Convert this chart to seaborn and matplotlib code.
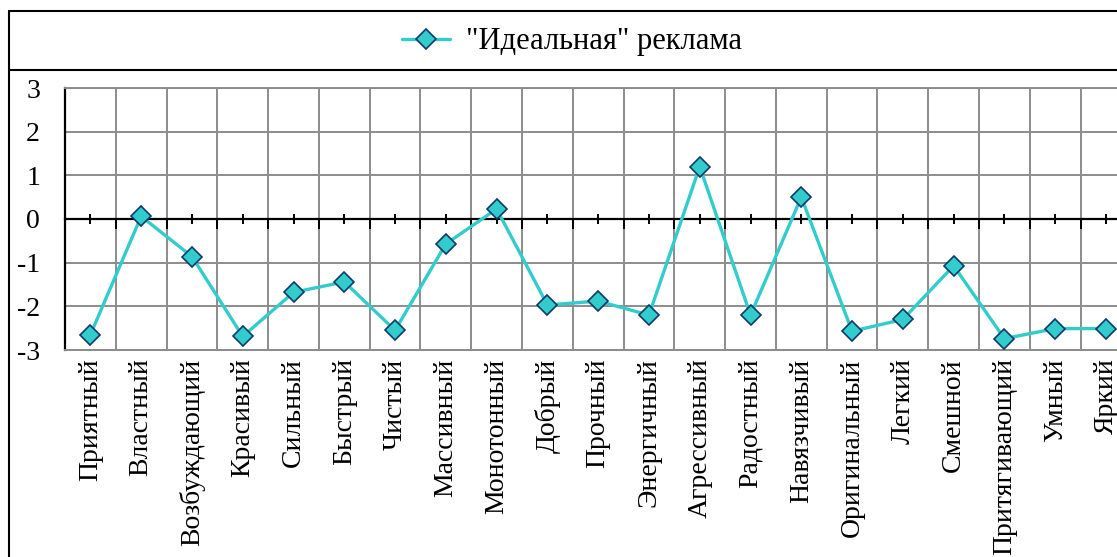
import numpy as np
import pandas as pd
import matplotlib
matplotlib.use("Agg")
import matplotlib.pyplot as plt
from matplotlib.lines import Line2D
from matplotlib import font_manager
import seaborn as sns

categories = ["Приятный", "Властный", "Возбуждающий", "Красивый", "Сильный",
              "Быстрый", "Чистый", "Массивный", "Монотонный", "Добрый",
              "Прочный", "Энергичный", "Агрессивный", "Радостный", "Навязчивый",
              "Оригинальный", "Легкий", "Смешной", "Притягивающий", "Умный", "Яркий"]
values = [-2.65, 0.06, -0.86, -2.69, -1.68, -1.44, -2.55, -0.57, 0.23, -1.97,
          -1.88, -2.20, 1.20, -2.20, 0.50, -2.57, -2.30, -1.07, -2.74, -2.51, -2.51]
series_name = '"Идеальная" реклама'
y_ticks = [-3, -2, -1, 0, 1, 2, 3]

sns.set_style("white")
plt.rcParams["font.family"] = "serif"
plt.rcParams["font.serif"] = ["Liberation Serif", "DejaVu Serif"]
plt.rcParams["text.color"] = "black"
plt.rcParams["xtick.color"] = "black"
plt.rcParams["ytick.color"] = "black"

df = pd.DataFrame({"cat": categories, "val": values, "series": series_name})

fig = plt.figure(figsize=(11.17, 5.57), dpi=100)
W, H = 1117, 557
ax = fig.add_axes([65 / W, 1 - 350 / H, 21 * 50.78 / W, 262 / H])

line_col = "#33CCCC"
edge_col = "#0D3A6B"
sns.lineplot(data=df, x="cat", y="val", sort=False, ax=ax, color=line_col,
             linewidth=2.4, marker="D", markersize=10.5, markerfacecolor=line_col,
             markeredgecolor=edge_col, markeredgewidth=1.2, label=series_name,
             legend=False, zorder=3)

n = len(categories)
ax.set_xlim(-0.5, n - 0.5)
ax.set_ylim(-3, 3)
ax.set_xticks(range(n))
ax.set_xticklabels(categories, rotation=90, fontsize=20, color="black")
ax.set_xticks(np.arange(-0.5, n, 1.0), minor=True)
ax.tick_params(axis="x", which="both", length=0, pad=6)
ax.set_yticks(y_ticks)
ax.set_yticklabels([str(v) for v in y_ticks], fontsize=20, color="black")
ax.tick_params(axis="y", which="major", direction="out", length=7, width=1.4,
               color="black", pad=11)
ax.set_xlabel("")
ax.set_ylabel("")

grid_col = "#8C8C8C"
ax.grid(which="minor", axis="x", color=grid_col, linewidth=1.4)
ax.grid(which="major", axis="y", color=grid_col, linewidth=1.4)
ax.grid(which="major", axis="x", visible=False)
ax.set_axisbelow(True)

for s in ["top", "bottom"]:
    ax.spines[s].set_color(grid_col)
    ax.spines[s].set_linewidth(1.4)
ax.spines["right"].set_visible(False)
ax.spines["left"].set_color("black")
ax.spines["left"].set_linewidth(1.6)

# horizontal category axis crossing at y = 0
secax = ax.secondary_xaxis(0, transform=ax.transData)
secax.set_zorder(2)
secax.spines["bottom"].set_color("black")
secax.spines["bottom"].set_linewidth(1.6)
secax.set_xticks(np.arange(-0.5, n, 1.0))
secax.set_xticklabels([])
secax.set_xticks(range(n), minor=True)
secax.tick_params(which="major", direction="out", length=7, width=1.4, color="black")
secax.tick_params(which="minor", direction="inout", length=7, width=1.4, color="black")

# legend
handle = Line2D([], [], color=line_col, linewidth=2.4, marker="D", markersize=10.5,
                markerfacecolor=line_col, markeredgecolor=edge_col, markeredgewidth=1.2)
leg = fig.legend([handle], [series_name], loc="center", bbox_to_anchor=(572 / W, 1 - 42 / H),
                 frameon=False, fontsize=22, handlelength=1.57, handletextpad=0.52)
for t in leg.get_texts():
    t.set_color("black")

# chart frame lines
lw = 1.5
fig.add_artist(Line2D([9 / W, 9 / W], [0, 1 - 11 / H], transform=fig.transFigure,
                      color="black", linewidth=lw))
fig.add_artist(Line2D([9 / W, 1], [1 - 11 / H, 1 - 11 / H], transform=fig.transFigure,
                      color="black", linewidth=lw))
fig.add_artist(Line2D([9 / W, 1], [1 - 70 / H, 1 - 70 / H], transform=fig.transFigure,
                      color="black", linewidth=lw))

fig.savefig("out.png", dpi=100)
